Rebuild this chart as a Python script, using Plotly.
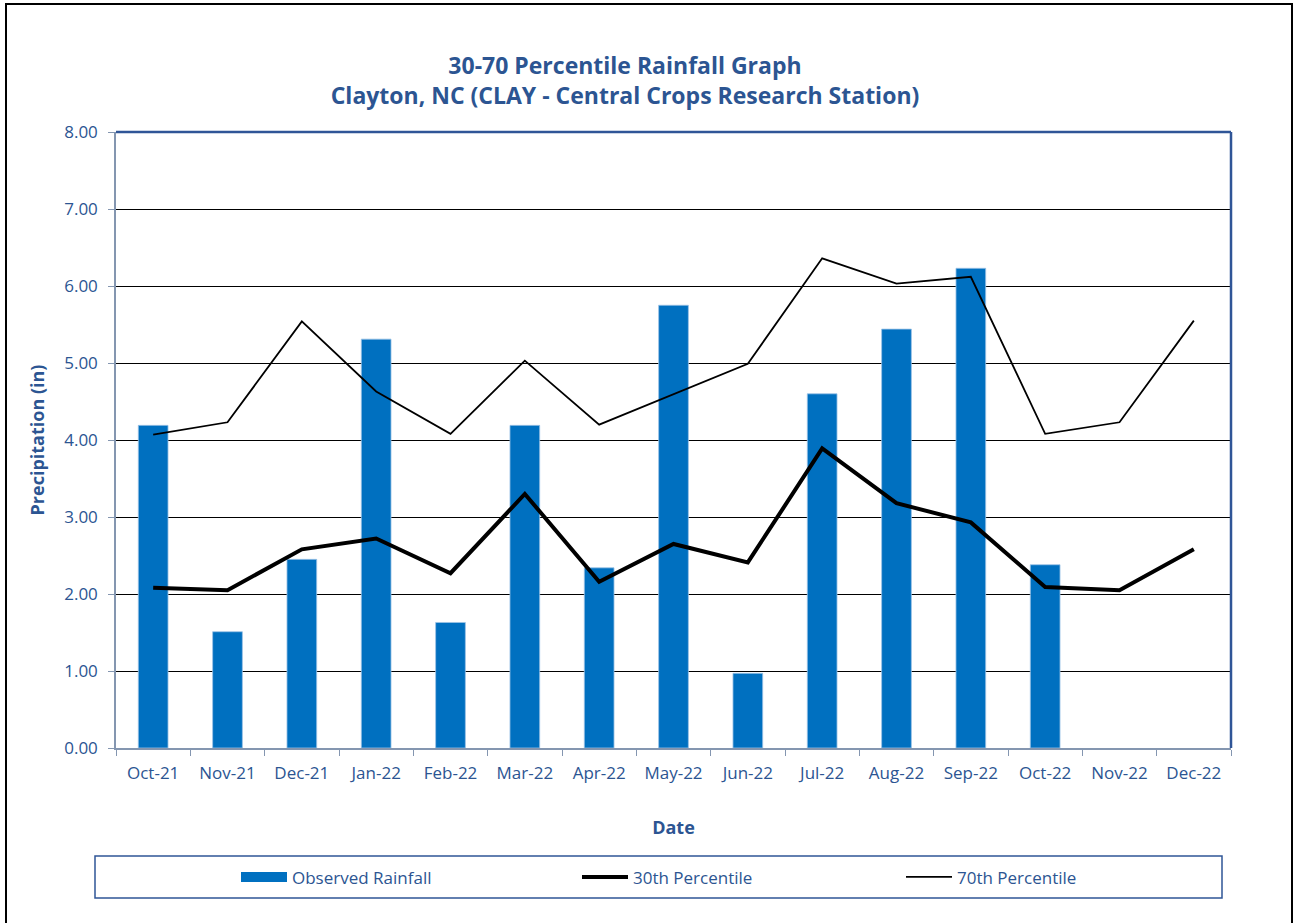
import plotly.graph_objects as go

# Monthly rainfall at Clayton, NC (CLAY) with 30th/70th percentile climatology
months = ["Oct-21", "Nov-21", "Dec-21", "Jan-22", "Feb-22", "Mar-22", "Apr-22",
          "May-22", "Jun-22", "Jul-22", "Aug-22", "Sep-22", "Oct-22", "Nov-22", "Dec-22"]
observed = [4.19, 1.51, 2.45, 5.31, 1.63, 4.19, 2.34, 5.75, 0.97, 4.60, 5.44, 6.23, 2.38, None, None]
pct30 = [2.08, 2.05, 2.58, 2.72, 2.27, 3.30, 2.16, 2.65, 2.41, 3.89, 3.18, 2.93, 2.09, 2.05, 2.58]
pct70 = [4.07, 4.23, 5.54, 4.63, 4.08, 5.03, 4.20, 4.59, 4.99, 6.36, 6.03, 6.12, 4.08, 4.23, 5.55]
y_ticks = [0, 1, 2, 3, 4, 5, 6, 7, 8]

BLUE = "#0070C0"
TEXT = "#2C5592"
AXIS_GRAY = "#8496B0"
FRAME_BLUE = "#2F5597"
FONT = "Open Sans"

fig = go.Figure()

fig.add_trace(go.Bar(
    x=months, y=observed, name="Observed Rainfall",
    marker=dict(color=BLUE, line=dict(color="#9DC3E6", width=0.8)),
    showlegend=False,
))
# wide swatch for the rainfall legend entry
fig.add_trace(go.Scatter(
    x=[None], y=[None], mode="lines", name="Observed Rainfall",
    line=dict(color=BLUE, width=10), legend="legend",
))
fig.add_trace(go.Scatter(
    x=months, y=pct30, mode="lines", name="30th Percentile",
    line=dict(color="black", width=4), legend="legend2",
))
fig.add_trace(go.Scatter(
    x=months, y=pct70, mode="lines", name="70th Percentile",
    line=dict(color="black", width=1.8), legend="legend3",
))

legend_common = dict(
    orientation="h", yanchor="middle", y=-0.21, xanchor="left",
    bgcolor="rgba(0,0,0,0)", borderwidth=0, itemwidth=46,
    font=dict(family=FONT, size=17, color=TEXT),
)

fig.update_layout(
    width=1294, height=923,
    margin=dict(l=116, r=63, t=132, b=175),
    paper_bgcolor="white", plot_bgcolor="white",
    bargap=0.6,
    font=dict(family=FONT, color=TEXT),
    title=dict(
        text="30-70 Percentile Rainfall Graph<br>Clayton, NC (CLAY - Central Crops Research Station)",
        x=625 / 1294, xanchor="center", xref="container",
        y=1 - 74 / 923, yanchor="middle", yref="container",
        font=dict(family=FONT, size=23, color=TEXT, weight="bold"),
    ),
    legend=dict(x=(236 - 116) / 1115, **legend_common),
    legend2=dict(x=(577 - 116) / 1115, **legend_common),
    legend3=dict(x=(901 - 116) / 1115, **legend_common),
    xaxis=dict(
        type="category", categoryorder="array", categoryarray=months,
        showline=True, linecolor=AXIS_GRAY, linewidth=1.5,
        ticks="outside", tickson="boundaries", ticklen=6, tickcolor=AXIS_GRAY,
        tickfont=dict(family=FONT, size=17, color=TEXT), ticklabelstandoff=9,
        showgrid=False,
        title=dict(text="Date", font=dict(family=FONT, size=18, color=TEXT, weight="bold"), standoff=38),
    ),
    yaxis=dict(
        range=[0, 8], tickvals=y_ticks, tickformat=".2f",
        showline=True, linecolor=AXIS_GRAY, linewidth=1.5,
        ticks="outside", ticklen=6, tickcolor=AXIS_GRAY,
        tickfont=dict(family=FONT, size=17, color=TEXT), ticklabelstandoff=7,
        showgrid=True, gridcolor="black", gridwidth=1.3,
        zeroline=False,
        title=dict(text="Precipitation (in)", font=dict(family=FONT, size=18, color=TEXT, weight="bold"), standoff=15),
    ),
    shapes=[
        # top and right frame of the plot area
        dict(type="line", xref="paper", yref="paper", x0=0, x1=1, y0=1, y1=1,
             line=dict(color=FRAME_BLUE, width=2.5)),
        dict(type="line", xref="paper", yref="paper", x0=1, x1=1, y0=0, y1=1,
             line=dict(color=FRAME_BLUE, width=2.5)),
        # legend box
        dict(type="rect", xref="paper", yref="paper",
             x0=(95 - 116) / 1115, x1=(1222 - 116) / 1115,
             y0=(748 - 898) / 616, y1=(748 - 856) / 616,
             line=dict(color=FRAME_BLUE, width=1.5)),
        # outer chart border
        dict(type="rect", xref="paper", yref="paper",
             x0=(6 - 116) / 1115, x1=(1292 - 116) / 1115,
             y0=(748 - 930) / 616, y1=(748 - 4) / 616,
             line=dict(color="black", width=2)),
    ],
)

fig.write_html("out.html")
